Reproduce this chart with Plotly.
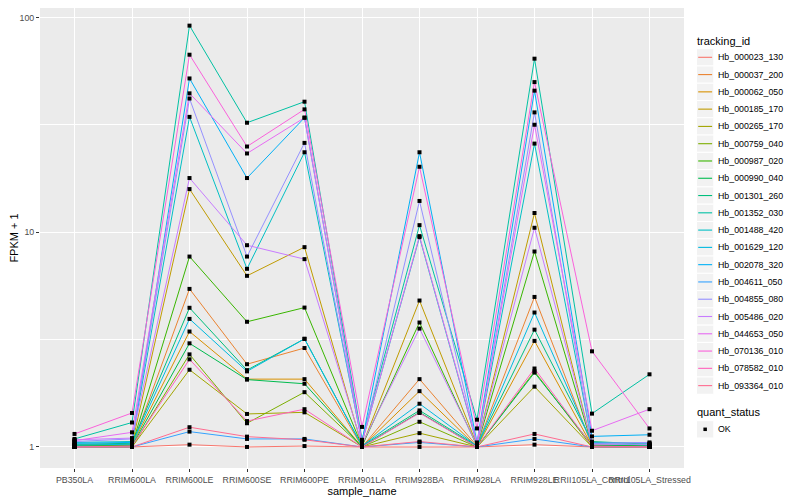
import plotly.graph_objects as go

samples = ["PB350LA", "RRIM600LA", "RRIM600LE", "RRIM600SE", "RRIM600PE",
           "RRIM901LA", "RRIM928BA", "RRIM928LA", "RRIM928LE",
           "RRII105LA_Control", "RRII105LA_Stressed"]

tracking_ids = ["Hb_000023_130", "Hb_000037_200", "Hb_000062_050", "Hb_000185_170",
                "Hb_000265_170", "Hb_000759_040", "Hb_000987_020", "Hb_000990_040",
                "Hb_001301_260", "Hb_001352_030", "Hb_001488_420", "Hb_001629_120",
                "Hb_002078_320", "Hb_004611_050", "Hb_004855_080", "Hb_005486_020",
                "Hb_044653_050", "Hb_070136_010", "Hb_078582_010", "Hb_093364_010"]

# FPKM + 1, one list per gene, in the order of `samples`
Hb_000023_130 = [1.00, 1.00, 1.025, 1.00, 1.01, 1.00, 1.00, 1.00, 1.025, 1.00, 1.00]
Hb_000037_200 = [1.01, 1.01, 5.45, 2.43, 2.89, 1.00, 2.07, 1.01, 5.00, 1.01, 1.01]
Hb_000062_050 = [1.01, 1.02, 3.45, 2.07, 2.07, 1.00, 1.82, 1.00, 3.12, 1.01, 1.01]
Hb_000185_170 = [1.02, 1.03, 15.9, 6.27, 8.53, 1.01, 4.81, 1.02, 12.3, 1.02, 1.02]
Hb_000265_170 = [1.00, 1.00, 2.29, 1.425, 1.45, 1.00, 1.16, 1.00, 1.91, 1.00, 1.00]
Hb_000759_040 = [1.00, 1.00, 2.70, 1.29, 1.80, 1.00, 1.31, 1.00, 2.25, 1.00, 1.00]
Hb_000987_020 = [1.02, 1.02, 7.71, 3.83, 4.46, 1.01, 3.80, 1.01, 8.14, 1.02, 1.01]
Hb_000990_040 = [1.01, 1.01, 3.04, 2.06, 1.97, 1.00, 1.45, 1.00, 2.22, 1.02, 1.01]
Hb_001301_260 = [1.03, 1.04, 4.45, 2.28, 3.19, 1.01, 1.48, 1.01, 3.52, 1.06, 1.03]
Hb_001352_030 = [1.09, 1.30, 91.8, 32.4, 40.6, 1.08, 10.8, 1.34, 64.4, 1.43, 2.18]
Hb_001488_420 = [1.05, 1.06, 34.5, 6.76, 23.6, 1.05, 9.5, 1.03, 25.9, 1.05, 1.04]
Hb_001629_120 = [1.02, 1.03, 3.95, 2.25, 3.19, 1.01, 1.59, 1.01, 4.23, 1.04, 1.02]
Hb_002078_320 = [1.04, 1.05, 52.1, 17.9, 34.2, 1.06, 23.6, 1.05, 45.7, 1.12, 1.14]
Hb_004611_050 = [1.00, 1.00, 1.179, 1.09, 1.09, 1.00, 1.05, 1.00, 1.09, 1.00, 1.00]
Hb_004855_080 = [1.06, 1.09, 42.0, 7.71, 26.1, 1.04, 14.0, 1.03, 36.2, 1.04, 1.05]
Hb_005486_020 = [1.08, 1.10, 17.9, 8.71, 7.50, 1.03, 3.56, 1.02, 10.5, 1.03, 1.03]
Hb_044653_050 = [1.07, 1.17, 44.4, 23.3, 34.2, 1.05, 9.6, 1.04, 31.7, 1.19, 1.50]
Hb_070136_010 = [1.15, 1.44, 67.2, 25.1, 37.4, 1.24, 20.2, 1.22, 50.1, 2.79, 1.22]
Hb_078582_010 = [1.00, 1.01, 2.56, 1.32, 1.50, 1.00, 1.44, 1.00, 2.32, 1.01, 1.00]
Hb_093364_010 = [1.00, 1.00, 1.236, 1.117, 1.08, 1.00, 1.06, 1.00, 1.15, 1.00, 1.00]

series = [Hb_000023_130, Hb_000037_200, Hb_000062_050, Hb_000185_170, Hb_000265_170,
          Hb_000759_040, Hb_000987_020, Hb_000990_040, Hb_001301_260, Hb_001352_030,
          Hb_001488_420, Hb_001629_120, Hb_002078_320, Hb_004611_050, Hb_004855_080,
          Hb_005486_020, Hb_044653_050, Hb_070136_010, Hb_078582_010, Hb_093364_010]

quant_status = "OK"

colors = ["#F8766D", "#EA8331", "#D89000", "#C09B00", "#A3A500", "#7CAE00", "#39B600",
          "#00BB4E", "#00BF7D", "#00C1A3", "#00BFC4", "#00BAE0", "#00B0F6", "#35A2FF",
          "#9590FF", "#C77CFF", "#E76BF3", "#FA62DB", "#FF62BC", "#FF6C91"]

FONT = "Liberation Sans, Arial, Helvetica, sans-serif"

# ---- layout geometry (page pixels; the figure div sits at an 8px page offset) ----
PAGE_OFF = 8
W, H = 800 - PAGE_OFF, 500 - PAGE_OFF
ML, MR, MT, MB = 32, 116, 0, 32
PLOT_L = PAGE_OFF + ML              # page x of plot-area left edge
PLOT_B = PAGE_OFF + H - MB          # page y of plot-area bottom edge
PLOT_W = W - ML - MR
PLOT_H = H - MT - MB
PX_PER_DECADE = 214.65
Y_LOW = -0.098
Y_HIGH = Y_LOW + PLOT_H / PX_PER_DECADE


def px(xp):
    return (xp - PLOT_L) / PLOT_W


def py(yp):
    return (PLOT_B - yp) / PLOT_H


fig = go.Figure()
for name, vals, col in zip(tracking_ids, series, colors):
    fig.add_trace(go.Scatter(x=samples, y=vals, mode="lines", name=name,
                             line=dict(color=col, width=1), showlegend=False))

all_x = [s for vals in series for s in samples]
all_y = [v for vals in series for v in vals]
fig.add_trace(go.Scatter(x=all_x, y=all_y, mode="markers", name=quant_status,
                         marker=dict(symbol="square", size=4, color="black"),
                         showlegend=False))

# ---- ggplot-style legends drawn in paper space ----
shapes = []
annotations = []
KEY_X0, KEY_X1 = 696.5, 713.8
KEY_H = 17.28
LABEL_X = 716.0
FIRST_C = 57.3

annotations.append(dict(text="tracking_id", x=px(695), y=py(40.7), xref="paper", yref="paper",
                        xanchor="left", yanchor="middle", showarrow=False,
                        font=dict(family=FONT, size=11, color="black")))
for i, (name, col) in enumerate(zip(tracking_ids, colors)):
    c = FIRST_C + KEY_H * i
    shapes.append(dict(type="rect", xref="paper", yref="paper",
                       x0=px(KEY_X0), x1=px(KEY_X1), y0=py(c - KEY_H / 2), y1=py(c + KEY_H / 2),
                       fillcolor="#F2F2F2", line=dict(color="white", width=1), layer="above"))
    shapes.append(dict(type="line", xref="paper", yref="paper",
                       x0=px(KEY_X0 + 1.7), x1=px(KEY_X1 - 1.7), y0=py(c), y1=py(c),
                       line=dict(color=col, width=1.1), layer="above"))
    annotations.append(dict(text=name, x=px(LABEL_X), y=py(c), xref="paper", yref="paper",
                            xanchor="left", yanchor="middle", showarrow=False,
                            font=dict(family=FONT, size=8.8, color="black")))

annotations.append(dict(text="quant_status", x=px(695), y=py(412.3), xref="paper", yref="paper",
                        xanchor="left", yanchor="middle", showarrow=False,
                        font=dict(family=FONT, size=11, color="black")))
c_ok = 429.3
shapes.append(dict(type="rect", xref="paper", yref="paper",
                   x0=px(KEY_X0), x1=px(KEY_X1), y0=py(c_ok - KEY_H / 2), y1=py(c_ok + KEY_H / 2),
                   fillcolor="#F2F2F2", line=dict(color="white", width=1), layer="above"))
shapes.append(dict(type="rect", xref="paper", yref="paper",
                   x0=px(703.4), x1=px(706.9), y0=py(c_ok - 1.75), y1=py(c_ok + 1.75),
                   fillcolor="black", line=dict(width=0), layer="above"))
annotations.append(dict(text=quant_status, x=px(LABEL_X), y=py(c_ok), xref="paper", yref="paper",
                        xanchor="left", yanchor="middle", showarrow=False,
                        font=dict(family=FONT, size=8.8, color="black")))

fig.update_layout(
    width=W, height=H,
    margin=dict(l=ML, r=MR, t=MT, b=MB, autoexpand=False),
    paper_bgcolor="white", plot_bgcolor="#EBEBEB",
    font=dict(family=FONT, size=9, color="#4D4D4D"),
    showlegend=False,
    shapes=shapes, annotations=annotations,
    xaxis=dict(type="category", categoryorder="array", categoryarray=samples,
               range=[-0.6, 10.6], showgrid=True, gridcolor="white", gridwidth=1.1,
               zeroline=False, showline=False, ticks="outside", ticklen=3,
               tickcolor="#333333", tickwidth=1, tickangle=0,
               tickfont=dict(family=FONT, size=8.8, color="#4D4D4D"),
               title=dict(text="sample_name", font=dict(family=FONT, size=11, color="black"),
                          standoff=2)),
    yaxis=dict(type="log", range=[Y_LOW, Y_HIGH], tickvals=[1, 10, 100],
               ticktext=["1", "10", "100"], showgrid=True, gridcolor="white", gridwidth=1.1,
               minor=dict(tickvals=[3.1623, 31.623], showgrid=True, gridcolor="white",
                          gridwidth=0.5),
               zeroline=False, showline=False, ticks="outside", ticklen=3,
               tickcolor="#333333", tickwidth=1,
               tickfont=dict(family=FONT, size=8.8, color="#4D4D4D"),
               title=dict(text="FPKM + 1", font=dict(family=FONT, size=11, color="black"),
                          standoff=4)),
)

fig.write_html("out.html")
